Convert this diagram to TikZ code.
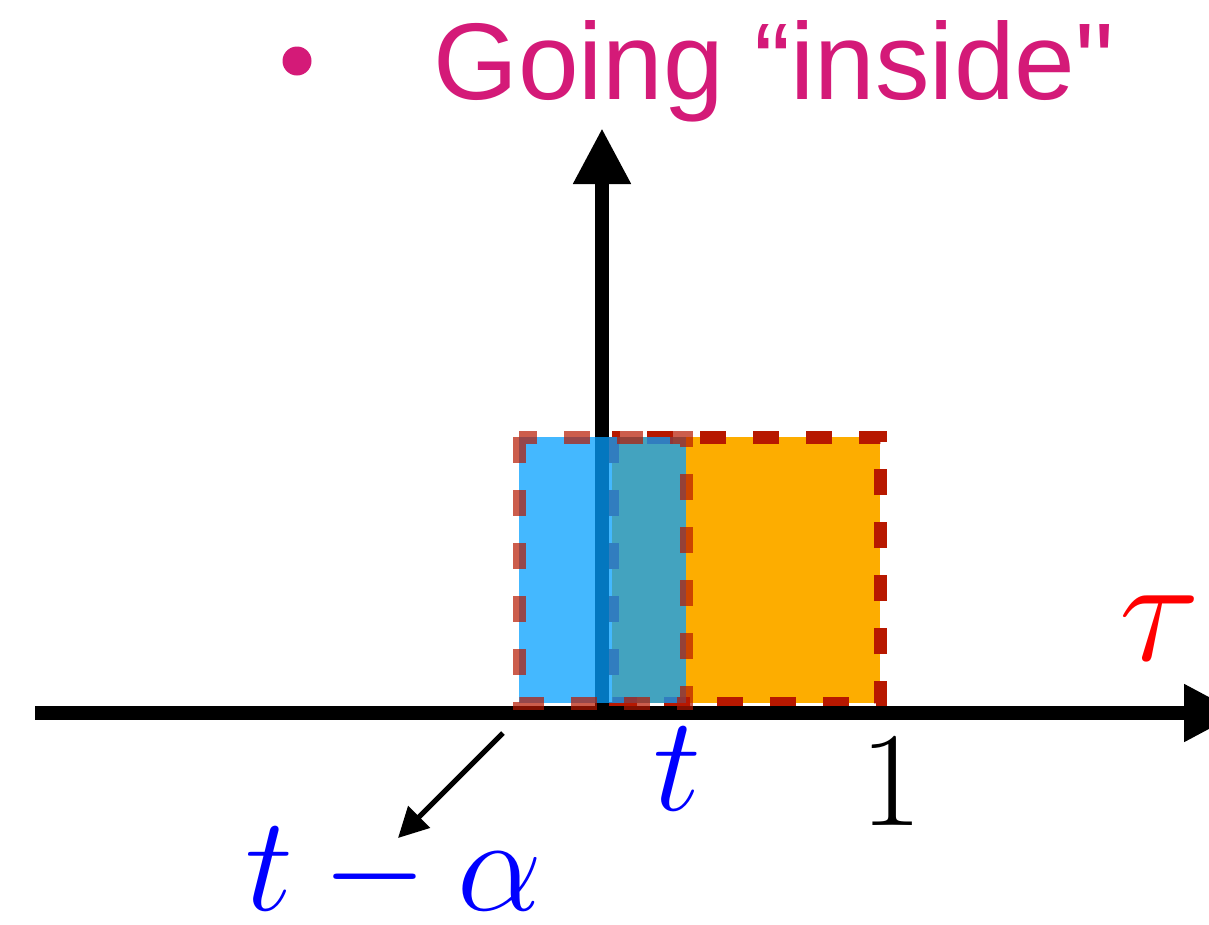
\RequirePackage{fix-cm}
\documentclass[tikz,border=0pt]{standalone}
\usepackage{fontspec}
\setmainfont{Liberation Sans}
\newfontfamily\titlefont{Liberation Sans}[Ligatures=TeXOff]
\usetikzlibrary{arrows.meta}
\definecolor{mag}{RGB}{212,26,120}
\definecolor{winblue}{RGB}{5,160,255}
\definecolor{winorange}{RGB}{253,173,0}
\definecolor{dashred}{RGB}{183,24,0}
\definecolor{lblue}{RGB}{0,0,255}
\begin{document}
\begin{tikzpicture}[x=1pt,y=-1pt,
  axis/.style={line width=14pt, -{Triangle[length=56pt,width=54pt]}},
  winbox/.style={line width=13pt, dash pattern=on 26pt off 27pt, draw=dashred},
  mlabel/.style={inner sep=0pt, font=\fontsize{135}{135}\selectfont}]
\useasboundingbox (0,0) rectangle (1209,924);
\clip (0,0) rectangle (1209,924);
% title
\node[circle, fill=mag, minimum size=29pt, inner sep=0pt] (bullet) at (297,61) {};
\node[anchor=base west, inner sep=0pt, text=mag, font=\titlefont\fontsize{109}{109}\selectfont] (title) at (433,99) {Going “inside"};
% axes coordinates
\coordinate (xl) at (35,713);
\coordinate (xr) at (1240,713);
\coordinate (yb) at (602,720);
\coordinate (yt) at (602,128);
% orange window
\fill[winorange] (612,437) rectangle (880,703);
\draw[winbox] (612,437) rectangle (880,703);
% axes
\draw[axis] (xl) -- (xr);
\draw[axis] (yb) -- (yt);
% blue window
\fill[winblue, fill opacity=0.75] (519,437) rectangle (686,703);
\draw[winbox, draw opacity=0.7] (519,437) rectangle (686,703);
% labels
\node[mlabel, anchor=base, text=lblue] (tl) at (677,810) {$t$};
\node[mlabel, anchor=base] (one) at (891,825) {$1$};
\node[mlabel, anchor=base, text=red, font=\fontsize{150}{150}\selectfont] (tau) at (1160,660) {$\tau$};
\node[mlabel, anchor=base west, text=lblue] (tma) at (245,910) {$t-\alpha$};
\coordinate (arrs) at (503,733);
\coordinate (arre) at (398,838);
\draw[line width=5pt, -{Triangle[length=30pt,width=30pt]}] (arrs) -- (arre);
\end{tikzpicture}
\end{document}
